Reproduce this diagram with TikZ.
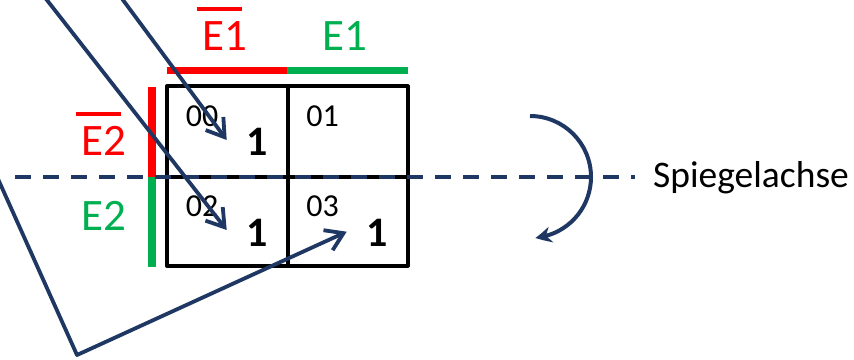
\documentclass[tikz,border=0pt]{standalone}
\usepackage{fontspec}
\setmainfont{Carlito}
\usetikzlibrary{arrows.meta,bending}
\definecolor{navy}{RGB}{31,56,99}
\definecolor{kred}{RGB}{255,0,0}
\definecolor{kgreen}{RGB}{0,176,80}
\newcommand{\myov}[1]{\setbox0\hbox{#1}\rlap{\hspace{-0.13em}\raisebox{0.86em}{\rule{\wd0}{0.09em}}}\box0}
\tikzset{
  grid/.style={draw=black,line width=4pt,line join=round},
  bar/.style={line width=7.5pt},
  lbl/.style={inner sep=0pt,anchor=base,font=\fontsize{45}{54}\selectfont},
  cell/.style={inner sep=0pt,anchor=base,font=\fontsize{32}{38}\selectfont},
  one/.style={inner sep=0pt,anchor=base,font=\fontsize{42}{50}\selectfont\bfseries},
  axis/.style={draw=navy,line width=3.3pt,dash pattern=on 16pt off 12pt},
  conn/.style={draw=navy,line width=3.8pt,line join=round,-{Straight Barb[length=17pt,width=22pt,line width=3.8pt]}},
  turn/.style={draw=navy,line width=4pt,-{Stealth[length=16pt,width=16pt,bend]}},
}
\begin{document}
\begin{tikzpicture}[x=1pt,y=-1pt]
\useasboundingbox[fill=white] (0,0) rectangle (854,359);
% grid
\draw[grid] (167,86.3) rectangle (407.5,265.8);
\draw[grid] (287.5,86.3) -- (287.5,265.8);
\draw[grid] (167,177) -- (407.5,177);
% bars
\draw[bar,kred] (166.7,70.5) -- (287.3,70.5);
\draw[bar,kgreen] (287.3,70.5) -- (408.3,70.5);
\draw[bar,kred] (152,86.5) -- (152,177);
\draw[bar,kgreen] (152,177) -- (152,266.7);
% header labels
\node[lbl,text=kred] (e1n) at (225,50) {\myov{E1}};
\node[lbl,text=kgreen] (e1) at (345,50) {E1};
\node[lbl,text=kred] (e2n) at (104,155) {\myov{E2}};
\node[lbl,text=kgreen] (e2) at (104,230) {E2};
% cells
\node[cell] (c00) at (202,126.7) {00};
\node[cell] (c01) at (322.5,126.7) {01};
\node[cell] (c02) at (202,216.7) {02};
\node[cell] (c03) at (322.5,216.7) {03};
\node[one] (o00) at (257.5,155) {1};
\node[one] (o02) at (257.5,246.7) {1};
\node[one] (o03) at (377.5,246.7) {1};
% axis
\coordinate (axs) at (15,177);
\coordinate (axe) at (635,177);
\draw[axis] (axs) -- (axe);
\node[inner sep=0pt,anchor=west,font=\fontsize{37.5}{44}\selectfont] (sp) at (653,178) {Spiegelachse};
% rotation arrow
\coordinate (rs) at (530,116);
\draw[turn] (rs) arc[start angle=-90,end angle=85,radius=61];
% connectors
\coordinate (s1) at (43,-5);
\coordinate (t1) at (226.7,230);
\coordinate (s2) at (119.3,-5);
\coordinate (t2) at (226.7,140);
\coordinate (s3) at (-6,170);
\coordinate (m3) at (77,355);
\coordinate (t3) at (346.7,231.7);
\draw[conn] (s1) -- (t1);
\draw[conn] (s2) -- (t2);
\draw[conn] (s3) -- (m3) -- (t3);
\end{tikzpicture}
\end{document}
